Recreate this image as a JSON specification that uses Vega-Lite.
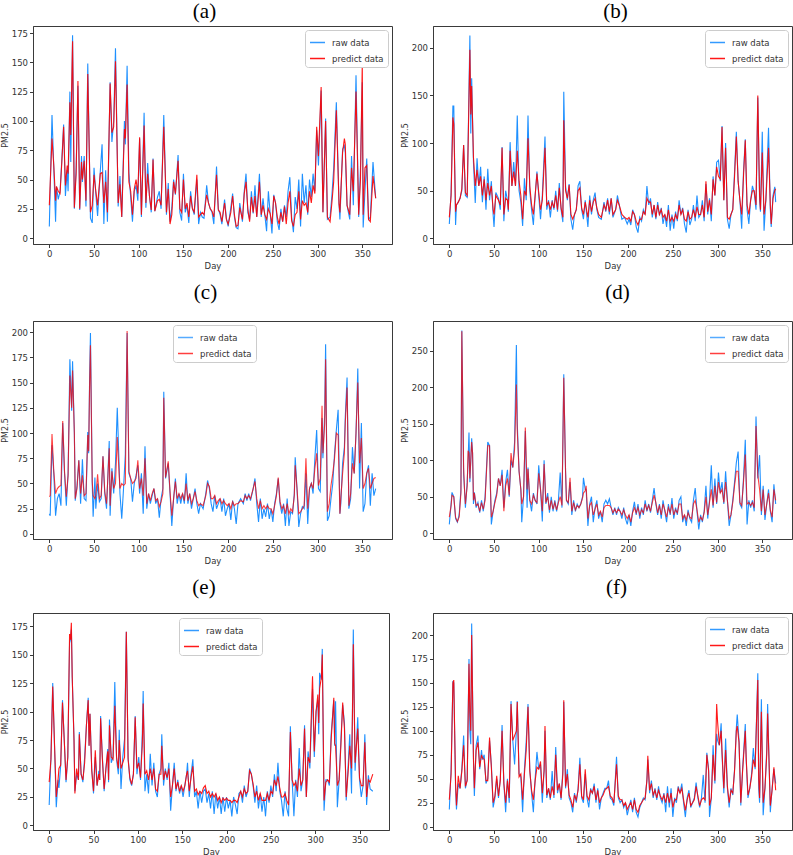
{
"$schema":"https://vega.github.io/schema/vega-lite/v6.json",
"padding":{"left":0,"top":0,"right":0,"bottom":0},
"config":{
 "font":"DejaVu Sans",
 "view":{"stroke":"#3a3a3a","strokeWidth":1},
 "axis":{"grid":false,"domainColor":"#3a3a3a","tickColor":"#3a3a3a","tickSize":3.5,"labelFontSize":8.5,"labelColor":"#333","labelPadding":2,"titleFontSize":8.5,"titleFontWeight":"normal","titleColor":"#333","titlePadding":3,"labelFlush":false,"labelOverlap":false},
 "axisY":{"minExtent":0,"titlePadding":2,"titleFontSize":8},
 "legend":{"labelFontSize":8.5,"labelColor":"#333","symbolType":"stroke","symbolSize":225,"symbolStrokeWidth":1.5,"strokeColor":"#cccccc","fillColor":"#ffffff","padding":4,"cornerRadius":3,"rowPadding":3,"labelOffset":6,"offset":4},
 "title":{"font":"Liberation Serif","fontSize":21,"fontWeight":"normal","color":"#000","anchor":"middle","frame":"group"}
},
"datasets":{
"a":[{"d":0,"r":10,"p":28},{"d":3,"r":105,"p":85},{"d":5,"r":60,"p":62},{"d":7,"r":14,"p":32},{"d":8,"r":44,"p":44},{"d":10,"r":33,"p":40},{"d":12,"r":40,"p":38},{"d":14,"r":67,"p":65},{"d":16,"r":97,"p":95},{"d":18,"r":36,"p":45},{"d":20,"r":58,"p":62},{"d":21,"r":40,"p":55},{"d":23,"r":125,"p":116},{"d":24,"r":65,"p":88},{"d":26,"r":173,"p":168},{"d":28,"r":25,"p":26},{"d":30,"r":60,"p":55},{"d":32,"r":130,"p":134},{"d":34,"r":24,"p":25},{"d":36,"r":70,"p":65},{"d":37,"r":48,"p":50},{"d":39,"r":70,"p":66},{"d":41,"r":27,"p":32},{"d":43,"r":149,"p":140},{"d":46,"r":17,"p":22},{"d":48,"r":13,"p":28},{"d":50,"r":60,"p":54},{"d":52,"r":38,"p":40},{"d":54,"r":19,"p":28},{"d":57,"r":57,"p":55},{"d":59,"r":80,"p":56},{"d":61,"r":12,"p":30},{"d":63,"r":58,"p":48},{"d":65,"r":14,"p":22},{"d":68,"r":133,"p":132},{"d":70,"r":82,"p":90},{"d":72,"r":100,"p":95},{"d":74,"r":162,"p":151},{"d":77,"r":27,"p":30},{"d":79,"r":53,"p":46},{"d":81,"r":18,"p":18},{"d":84,"r":100,"p":93},{"d":85,"r":80,"p":85},{"d":87,"r":147,"p":131},{"d":89,"r":56,"p":48},{"d":91,"r":35,"p":40},{"d":93,"r":14,"p":20},{"d":95,"r":40,"p":42},{"d":97,"r":45,"p":50},{"d":99,"r":32,"p":38},{"d":101,"r":85,"p":86},{"d":103,"r":18,"p":20},{"d":106,"r":107,"p":96},{"d":108,"r":26,"p":30},{"d":110,"r":64,"p":55},{"d":112,"r":36,"p":36},{"d":114,"r":22,"p":24},{"d":116,"r":68,"p":67},{"d":118,"r":23,"p":23},{"d":121,"r":35,"p":32},{"d":123,"r":40,"p":33},{"d":125,"r":25,"p":28},{"d":128,"r":105,"p":95},{"d":131,"r":20,"p":22},{"d":133,"r":47,"p":42},{"d":135,"r":14,"p":12},{"d":137,"r":26,"p":20},{"d":139,"r":50,"p":48},{"d":141,"r":37,"p":38},{"d":144,"r":71,"p":66},{"d":146,"r":22,"p":25},{"d":148,"r":15,"p":22},{"d":150,"r":55,"p":50},{"d":152,"r":22,"p":25},{"d":154,"r":28,"p":30},{"d":156,"r":13,"p":18},{"d":158,"r":40,"p":36},{"d":160,"r":26,"p":25},{"d":162,"r":20,"p":22},{"d":165,"r":50,"p":54},{"d":167,"r":12,"p":18},{"d":169,"r":22,"p":20},{"d":171,"r":18,"p":22},{"d":173,"r":17,"p":20},{"d":176,"r":45,"p":37},{"d":178,"r":30,"p":30},{"d":180,"r":25,"p":25},{"d":182,"r":22,"p":23},{"d":184,"r":12,"p":18},{"d":187,"r":61,"p":54},{"d":189,"r":25,"p":24},{"d":191,"r":20,"p":22},{"d":193,"r":12,"p":14},{"d":196,"r":33,"p":30},{"d":198,"r":17,"p":16},{"d":200,"r":10,"p":12},{"d":203,"r":26,"p":22},{"d":205,"r":38,"p":36},{"d":207,"r":18,"p":20},{"d":209,"r":9,"p":10},{"d":211,"r":8,"p":11},{"d":213,"r":30,"p":26},{"d":216,"r":14,"p":16},{"d":218,"r":40,"p":38},{"d":220,"r":55,"p":48},{"d":222,"r":22,"p":25},{"d":224,"r":16,"p":14},{"d":226,"r":40,"p":35},{"d":228,"r":21,"p":22},{"d":230,"r":45,"p":36},{"d":232,"r":18,"p":18},{"d":235,"r":55,"p":48},{"d":237,"r":18,"p":20},{"d":239,"r":34,"p":28},{"d":241,"r":20,"p":20},{"d":243,"r":6,"p":16},{"d":245,"r":40,"p":25},{"d":247,"r":21,"p":21},{"d":249,"r":4,"p":12},{"d":251,"r":37,"p":36},{"d":253,"r":30,"p":30},{"d":255,"r":14,"p":18},{"d":257,"r":7,"p":12},{"d":259,"r":25,"p":22},{"d":261,"r":14,"p":14},{"d":263,"r":28,"p":27},{"d":265,"r":18,"p":12},{"d":267,"r":40,"p":30},{"d":269,"r":52,"p":40},{"d":271,"r":18,"p":15},{"d":273,"r":5,"p":10},{"d":275,"r":35,"p":20},{"d":277,"r":25,"p":22},{"d":279,"r":50,"p":40},{"d":281,"r":10,"p":16},{"d":283,"r":55,"p":32},{"d":285,"r":30,"p":28},{"d":287,"r":45,"p":30},{"d":289,"r":20,"p":22},{"d":291,"r":50,"p":40},{"d":293,"r":35,"p":30},{"d":295,"r":55,"p":45},{"d":297,"r":40,"p":38},{"d":299,"r":92,"p":95},{"d":301,"r":62,"p":70},{"d":304,"r":126,"p":129},{"d":306,"r":22,"p":22},{"d":309,"r":102,"p":100},{"d":311,"r":16,"p":18},{"d":314,"r":18,"p":14},{"d":316,"r":36,"p":30},{"d":318,"r":59,"p":48},{"d":321,"r":116,"p":109},{"d":324,"r":29,"p":29},{"d":325,"r":16,"p":22},{"d":328,"r":76,"p":73},{"d":330,"r":79,"p":85},{"d":331,"r":73,"p":80},{"d":333,"r":28,"p":28},{"d":336,"r":16,"p":20},{"d":338,"r":70,"p":60},{"d":340,"r":28,"p":40},{"d":343,"r":139,"p":125},{"d":346,"r":18,"p":20},{"d":348,"r":60,"p":50},{"d":350,"r":133,"p":149},{"d":351,"r":9,"p":20},{"d":353,"r":40,"p":60},{"d":355,"r":68,"p":62},{"d":357,"r":16,"p":16},{"d":359,"r":18,"p":14},{"d":362,"r":65,"p":53},{"d":365,"r":34,"p":34}],
"b":[{"d":0,"r":15,"p":22},{"d":2,"r":48,"p":45},{"d":4,"r":139,"p":127},{"d":5,"r":139,"p":120},{"d":7,"r":14,"p":28},{"d":8,"r":35,"p":35},{"d":10,"r":38,"p":38},{"d":12,"r":42,"p":42},{"d":14,"r":50,"p":52},{"d":16,"r":98,"p":98},{"d":18,"r":45,"p":48},{"d":20,"r":43,"p":45},{"d":23,"r":213,"p":198},{"d":24,"r":110,"p":130},{"d":25,"r":168,"p":160},{"d":27,"r":80,"p":85},{"d":29,"r":37,"p":55},{"d":31,"r":84,"p":72},{"d":33,"r":55,"p":55},{"d":35,"r":75,"p":65},{"d":37,"r":38,"p":45},{"d":39,"r":65,"p":62},{"d":41,"r":30,"p":40},{"d":43,"r":73,"p":58},{"d":45,"r":40,"p":45},{"d":47,"r":60,"p":55},{"d":49,"r":25,"p":30},{"d":50,"r":12,"p":25},{"d":52,"r":48,"p":45},{"d":55,"r":42,"p":40},{"d":57,"r":30,"p":35},{"d":59,"r":96,"p":95},{"d":61,"r":18,"p":25},{"d":63,"r":50,"p":42},{"d":65,"r":40,"p":40},{"d":66,"r":28,"p":30},{"d":68,"r":101,"p":92},{"d":70,"r":55,"p":55},{"d":72,"r":80,"p":70},{"d":74,"r":55,"p":55},{"d":76,"r":129,"p":92},{"d":78,"r":50,"p":60},{"d":80,"r":38,"p":45},{"d":82,"r":13,"p":20},{"d":84,"r":63,"p":50},{"d":86,"r":40,"p":45},{"d":88,"r":129,"p":105},{"d":90,"r":50,"p":55},{"d":92,"r":30,"p":35},{"d":94,"r":14,"p":25},{"d":96,"r":45,"p":45},{"d":98,"r":70,"p":68},{"d":100,"r":45,"p":48},{"d":102,"r":20,"p":30},{"d":104,"r":45,"p":40},{"d":107,"r":107,"p":95},{"d":109,"r":30,"p":35},{"d":111,"r":40,"p":38},{"d":113,"r":22,"p":30},{"d":115,"r":40,"p":38},{"d":117,"r":30,"p":32},{"d":119,"r":50,"p":45},{"d":121,"r":28,"p":30},{"d":123,"r":58,"p":53},{"d":125,"r":30,"p":32},{"d":127,"r":17,"p":22},{"d":128,"r":154,"p":124},{"d":130,"r":55,"p":50},{"d":132,"r":40,"p":42},{"d":134,"r":57,"p":56},{"d":136,"r":20,"p":25},{"d":138,"r":9,"p":20},{"d":140,"r":25,"p":25},{"d":142,"r":30,"p":30},{"d":144,"r":55,"p":50},{"d":146,"r":60,"p":53},{"d":148,"r":30,"p":32},{"d":150,"r":20,"p":25},{"d":152,"r":40,"p":38},{"d":155,"r":12,"p":22},{"d":157,"r":45,"p":40},{"d":159,"r":25,"p":28},{"d":161,"r":40,"p":38},{"d":163,"r":48,"p":42},{"d":165,"r":30,"p":32},{"d":167,"r":22,"p":25},{"d":170,"r":20,"p":22},{"d":173,"r":38,"p":35},{"d":175,"r":28,"p":30},{"d":177,"r":42,"p":40},{"d":179,"r":25,"p":28},{"d":181,"r":42,"p":42},{"d":183,"r":22,"p":25},{"d":186,"r":30,"p":30},{"d":188,"r":45,"p":40},{"d":190,"r":35,"p":35},{"d":193,"r":20,"p":25},{"d":196,"r":22,"p":22},{"d":199,"r":15,"p":20},{"d":201,"r":20,"p":22},{"d":203,"r":14,"p":18},{"d":205,"r":30,"p":28},{"d":207,"r":25,"p":25},{"d":209,"r":12,"p":18},{"d":211,"r":6,"p":14},{"d":213,"r":22,"p":20},{"d":215,"r":18,"p":20},{"d":217,"r":30,"p":28},{"d":219,"r":25,"p":25},{"d":221,"r":55,"p":42},{"d":223,"r":35,"p":38},{"d":225,"r":42,"p":38},{"d":227,"r":22,"p":25},{"d":229,"r":35,"p":35},{"d":231,"r":20,"p":22},{"d":233,"r":38,"p":35},{"d":235,"r":24,"p":25},{"d":237,"r":32,"p":30},{"d":239,"r":15,"p":22},{"d":241,"r":25,"p":25},{"d":243,"r":12,"p":18},{"d":245,"r":35,"p":30},{"d":247,"r":8,"p":18},{"d":249,"r":25,"p":22},{"d":251,"r":10,"p":18},{"d":253,"r":28,"p":25},{"d":255,"r":18,"p":20},{"d":257,"r":40,"p":35},{"d":259,"r":25,"p":25},{"d":261,"r":32,"p":30},{"d":263,"r":15,"p":20},{"d":265,"r":6,"p":18},{"d":267,"r":30,"p":28},{"d":269,"r":14,"p":20},{"d":271,"r":20,"p":22},{"d":273,"r":35,"p":30},{"d":275,"r":18,"p":22},{"d":277,"r":45,"p":33},{"d":279,"r":22,"p":25},{"d":281,"r":25,"p":25},{"d":283,"r":40,"p":35},{"d":285,"r":18,"p":22},{"d":287,"r":57,"p":60},{"d":289,"r":25,"p":28},{"d":291,"r":42,"p":40},{"d":293,"r":18,"p":25},{"d":295,"r":65,"p":62},{"d":297,"r":45,"p":45},{"d":299,"r":80,"p":75},{"d":301,"r":82,"p":65},{"d":303,"r":60,"p":62},{"d":305,"r":118,"p":117},{"d":307,"r":40,"p":40},{"d":309,"r":100,"p":95},{"d":311,"r":20,"p":22},{"d":313,"r":10,"p":20},{"d":315,"r":25,"p":25},{"d":317,"r":30,"p":30},{"d":319,"r":70,"p":65},{"d":321,"r":112,"p":107},{"d":323,"r":60,"p":60},{"d":325,"r":40,"p":40},{"d":327,"r":10,"p":25},{"d":329,"r":70,"p":65},{"d":331,"r":104,"p":103},{"d":333,"r":30,"p":35},{"d":335,"r":15,"p":25},{"d":337,"r":40,"p":40},{"d":339,"r":55,"p":50},{"d":341,"r":48,"p":50},{"d":343,"r":30,"p":35},{"d":345,"r":148,"p":150},{"d":347,"r":40,"p":45},{"d":348,"r":28,"p":30},{"d":350,"r":112,"p":90},{"d":352,"r":8,"p":25},{"d":354,"r":40,"p":40},{"d":357,"r":116,"p":95},{"d":359,"r":30,"p":35},{"d":360,"r":12,"p":15},{"d":362,"r":45,"p":42},{"d":364,"r":54,"p":50},{"d":365,"r":38,"p":52}],
"c":[{"d":0,"r":20,"p":37},{"d":1,"r":18,"p":38},{"d":3,"r":88,"p":99},{"d":5,"r":60,"p":62},{"d":7,"r":18,"p":40},{"d":9,"r":35,"p":45},{"d":11,"r":40,"p":47},{"d":13,"r":28,"p":48},{"d":15,"r":110,"p":112},{"d":17,"r":60,"p":62},{"d":19,"r":28,"p":37},{"d":21,"r":60,"p":58},{"d":23,"r":173,"p":157},{"d":25,"r":122,"p":125},{"d":26,"r":171,"p":162},{"d":28,"r":100,"p":100},{"d":29,"r":33,"p":35},{"d":31,"r":48,"p":45},{"d":33,"r":73,"p":73},{"d":35,"r":30,"p":40},{"d":37,"r":74,"p":58},{"d":39,"r":35,"p":38},{"d":41,"r":33,"p":40},{"d":43,"r":101,"p":98},{"d":44,"r":80,"p":82},{"d":45,"r":150,"p":145},{"d":46,"r":199,"p":187},{"d":48,"r":50,"p":52},{"d":49,"r":17,"p":38},{"d":51,"r":56,"p":35},{"d":52,"r":25,"p":38},{"d":54,"r":50,"p":59},{"d":56,"r":32,"p":35},{"d":58,"r":35,"p":38},{"d":60,"r":77,"p":77},{"d":62,"r":40,"p":42},{"d":64,"r":25,"p":30},{"d":65,"r":47,"p":47},{"d":67,"r":92,"p":85},{"d":68,"r":18,"p":28},{"d":70,"r":65,"p":62},{"d":72,"r":40,"p":45},{"d":74,"r":70,"p":50},{"d":76,"r":125,"p":96},{"d":78,"r":70,"p":60},{"d":79,"r":40,"p":45},{"d":81,"r":15,"p":50},{"d":83,"r":45,"p":48},{"d":85,"r":79,"p":50},{"d":87,"r":199,"p":201},{"d":89,"r":60,"p":62},{"d":91,"r":55,"p":55},{"d":93,"r":32,"p":50},{"d":95,"r":50,"p":52},{"d":97,"r":58,"p":55},{"d":99,"r":68,"p":73},{"d":101,"r":40,"p":45},{"d":103,"r":60,"p":55},{"d":105,"r":20,"p":38},{"d":107,"r":87,"p":75},{"d":109,"r":25,"p":30},{"d":111,"r":40,"p":40},{"d":113,"r":30,"p":33},{"d":115,"r":38,"p":40},{"d":117,"r":45,"p":45},{"d":119,"r":30,"p":33},{"d":121,"r":35,"p":35},{"d":123,"r":16,"p":27},{"d":125,"r":35,"p":32},{"d":127,"r":45,"p":40},{"d":128,"r":141,"p":135},{"d":130,"r":55,"p":56},{"d":133,"r":70,"p":72},{"d":135,"r":40,"p":42},{"d":137,"r":8,"p":18},{"d":139,"r":35,"p":35},{"d":141,"r":55,"p":52},{"d":143,"r":30,"p":35},{"d":145,"r":40,"p":40},{"d":147,"r":30,"p":35},{"d":149,"r":40,"p":40},{"d":151,"r":30,"p":33},{"d":153,"r":60,"p":50},{"d":155,"r":30,"p":33},{"d":157,"r":40,"p":40},{"d":159,"r":25,"p":30},{"d":161,"r":35,"p":35},{"d":163,"r":45,"p":42},{"d":165,"r":30,"p":33},{"d":167,"r":20,"p":28},{"d":169,"r":30,"p":30},{"d":172,"r":25,"p":28},{"d":175,"r":40,"p":38},{"d":177,"r":53,"p":50},{"d":179,"r":45,"p":47},{"d":181,"r":30,"p":35},{"d":183,"r":22,"p":35},{"d":185,"r":38,"p":38},{"d":187,"r":25,"p":30},{"d":189,"r":30,"p":33},{"d":191,"r":35,"p":35},{"d":193,"r":22,"p":30},{"d":195,"r":35,"p":33},{"d":197,"r":18,"p":30},{"d":199,"r":25,"p":28},{"d":201,"r":30,"p":30},{"d":203,"r":14,"p":25},{"d":205,"r":33,"p":32},{"d":207,"r":25,"p":28},{"d":209,"r":10,"p":30},{"d":211,"r":30,"p":30},{"d":214,"r":35,"p":33},{"d":217,"r":30,"p":32},{"d":219,"r":40,"p":38},{"d":221,"r":33,"p":35},{"d":223,"r":40,"p":38},{"d":225,"r":33,"p":35},{"d":228,"r":45,"p":45},{"d":230,"r":55,"p":52},{"d":232,"r":30,"p":35},{"d":234,"r":12,"p":25},{"d":236,"r":35,"p":33},{"d":238,"r":15,"p":25},{"d":240,"r":25,"p":28},{"d":242,"r":17,"p":25},{"d":244,"r":30,"p":28},{"d":246,"r":15,"p":25},{"d":248,"r":25,"p":25},{"d":250,"r":12,"p":20},{"d":252,"r":30,"p":28},{"d":254,"r":40,"p":38},{"d":256,"r":55,"p":56},{"d":258,"r":30,"p":32},{"d":260,"r":20,"p":25},{"d":262,"r":30,"p":28},{"d":264,"r":8,"p":20},{"d":266,"r":35,"p":30},{"d":268,"r":8,"p":20},{"d":270,"r":22,"p":25},{"d":272,"r":20,"p":22},{"d":274,"r":40,"p":38},{"d":275,"r":76,"p":68},{"d":277,"r":45,"p":45},{"d":279,"r":7,"p":20},{"d":281,"r":20,"p":22},{"d":283,"r":27,"p":25},{"d":285,"r":25,"p":28},{"d":287,"r":60,"p":75},{"d":289,"r":10,"p":25},{"d":291,"r":45,"p":45},{"d":293,"r":50,"p":50},{"d":295,"r":40,"p":45},{"d":297,"r":75,"p":65},{"d":299,"r":103,"p":80},{"d":301,"r":45,"p":48},{"d":303,"r":42,"p":55},{"d":305,"r":115,"p":127},{"d":306,"r":75,"p":80},{"d":308,"r":120,"p":110},{"d":309,"r":188,"p":173},{"d":311,"r":13,"p":22},{"d":313,"r":18,"p":30},{"d":315,"r":35,"p":48},{"d":317,"r":50,"p":60},{"d":319,"r":80,"p":75},{"d":321,"r":103,"p":100},{"d":323,"r":123,"p":98},{"d":325,"r":20,"p":20},{"d":326,"r":30,"p":35},{"d":328,"r":70,"p":60},{"d":330,"r":86,"p":80},{"d":331,"r":116,"p":110},{"d":333,"r":155,"p":145},{"d":335,"r":25,"p":28},{"d":337,"r":35,"p":40},{"d":339,"r":86,"p":70},{"d":341,"r":60,"p":60},{"d":343,"r":100,"p":100},{"d":345,"r":164,"p":150},{"d":347,"r":45,"p":70},{"d":349,"r":110,"p":95},{"d":351,"r":22,"p":45},{"d":353,"r":30,"p":50},{"d":355,"r":60,"p":60},{"d":357,"r":68,"p":65},{"d":359,"r":28,"p":45},{"d":361,"r":60,"p":50},{"d":363,"r":38,"p":55},{"d":365,"r":45,"p":56}],
"d":[{"d":0,"r":12,"p":22},{"d":2,"r":40,"p":38},{"d":3,"r":56,"p":52},{"d":5,"r":50,"p":50},{"d":7,"r":20,"p":22},{"d":9,"r":15,"p":16},{"d":11,"r":25,"p":22},{"d":13,"r":60,"p":55},{"d":14,"r":278,"p":277},{"d":16,"r":80,"p":90},{"d":17,"r":60,"p":60},{"d":18,"r":35,"p":40},{"d":20,"r":70,"p":65},{"d":21,"r":100,"p":113},{"d":22,"r":138,"p":110},{"d":23,"r":70,"p":75},{"d":25,"r":130,"p":125},{"d":26,"r":110,"p":110},{"d":27,"r":40,"p":45},{"d":28,"r":56,"p":55},{"d":30,"r":35,"p":38},{"d":32,"r":42,"p":40},{"d":34,"r":28,"p":30},{"d":36,"r":45,"p":42},{"d":38,"r":30,"p":33},{"d":40,"r":50,"p":45},{"d":42,"r":100,"p":95},{"d":43,"r":125,"p":120},{"d":45,"r":120,"p":120},{"d":46,"r":60,"p":62},{"d":47,"r":12,"p":22},{"d":49,"r":30,"p":30},{"d":51,"r":45,"p":42},{"d":53,"r":55,"p":52},{"d":55,"r":75,"p":75},{"d":57,"r":65,"p":65},{"d":59,"r":87,"p":80},{"d":61,"r":35,"p":30},{"d":63,"r":70,"p":65},{"d":65,"r":87,"p":75},{"d":67,"r":50,"p":52},{"d":69,"r":100,"p":110},{"d":71,"r":90,"p":90},{"d":73,"r":125,"p":115},{"d":75,"r":258,"p":204},{"d":76,"r":150,"p":140},{"d":78,"r":85,"p":85},{"d":80,"r":60,"p":60},{"d":81,"r":15,"p":40},{"d":83,"r":50,"p":50},{"d":85,"r":140,"p":145},{"d":87,"r":35,"p":60},{"d":88,"r":90,"p":88},{"d":90,"r":45,"p":45},{"d":92,"r":30,"p":40},{"d":94,"r":55,"p":52},{"d":96,"r":45,"p":45},{"d":98,"r":40,"p":42},{"d":100,"r":93,"p":82},{"d":102,"r":60,"p":60},{"d":104,"r":16,"p":30},{"d":106,"r":100,"p":95},{"d":108,"r":40,"p":42},{"d":110,"r":55,"p":50},{"d":112,"r":28,"p":32},{"d":114,"r":50,"p":45},{"d":116,"r":30,"p":33},{"d":118,"r":45,"p":42},{"d":120,"r":30,"p":32},{"d":122,"r":45,"p":42},{"d":124,"r":83,"p":50},{"d":126,"r":35,"p":38},{"d":128,"r":218,"p":213},{"d":130,"r":85,"p":85},{"d":131,"r":45,"p":45},{"d":133,"r":40,"p":42},{"d":135,"r":70,"p":76},{"d":137,"r":25,"p":30},{"d":139,"r":45,"p":42},{"d":141,"r":30,"p":32},{"d":143,"r":40,"p":38},{"d":145,"r":35,"p":35},{"d":147,"r":40,"p":40},{"d":149,"r":50,"p":48},{"d":150,"r":76,"p":55},{"d":152,"r":60,"p":58},{"d":153,"r":60,"p":65},{"d":155,"r":10,"p":20},{"d":157,"r":40,"p":38},{"d":159,"r":50,"p":42},{"d":161,"r":15,"p":25},{"d":163,"r":35,"p":33},{"d":165,"r":45,"p":40},{"d":167,"r":20,"p":25},{"d":169,"r":30,"p":30},{"d":171,"r":15,"p":22},{"d":173,"r":40,"p":35},{"d":175,"r":45,"p":38},{"d":177,"r":40,"p":38},{"d":179,"r":47,"p":38},{"d":181,"r":35,"p":35},{"d":183,"r":25,"p":28},{"d":185,"r":35,"p":33},{"d":187,"r":25,"p":28},{"d":189,"r":35,"p":33},{"d":191,"r":30,"p":30},{"d":193,"r":20,"p":25},{"d":195,"r":35,"p":32},{"d":197,"r":20,"p":25},{"d":199,"r":12,"p":20},{"d":201,"r":25,"p":25},{"d":203,"r":10,"p":15},{"d":205,"r":30,"p":28},{"d":207,"r":43,"p":35},{"d":209,"r":25,"p":28},{"d":211,"r":40,"p":35},{"d":213,"r":20,"p":25},{"d":215,"r":35,"p":32},{"d":217,"r":25,"p":28},{"d":219,"r":45,"p":40},{"d":221,"r":30,"p":32},{"d":223,"r":40,"p":38},{"d":225,"r":28,"p":30},{"d":227,"r":45,"p":42},{"d":229,"r":62,"p":52},{"d":231,"r":40,"p":42},{"d":233,"r":25,"p":28},{"d":235,"r":40,"p":38},{"d":237,"r":20,"p":25},{"d":239,"r":45,"p":40},{"d":241,"r":30,"p":32},{"d":243,"r":15,"p":22},{"d":245,"r":40,"p":35},{"d":247,"r":25,"p":28},{"d":249,"r":48,"p":40},{"d":251,"r":20,"p":25},{"d":253,"r":35,"p":32},{"d":255,"r":25,"p":28},{"d":257,"r":45,"p":40},{"d":259,"r":50,"p":40},{"d":261,"r":15,"p":20},{"d":263,"r":25,"p":25},{"d":265,"r":10,"p":18},{"d":267,"r":32,"p":28},{"d":269,"r":20,"p":22},{"d":271,"r":15,"p":20},{"d":273,"r":45,"p":40},{"d":275,"r":62,"p":45},{"d":277,"r":30,"p":32},{"d":279,"r":5,"p":15},{"d":281,"r":25,"p":22},{"d":283,"r":15,"p":18},{"d":285,"r":30,"p":28},{"d":287,"r":65,"p":50},{"d":289,"r":20,"p":25},{"d":291,"r":45,"p":42},{"d":293,"r":93,"p":60},{"d":295,"r":35,"p":38},{"d":297,"r":75,"p":65},{"d":299,"r":40,"p":42},{"d":301,"r":83,"p":70},{"d":303,"r":55,"p":55},{"d":305,"r":70,"p":60},{"d":307,"r":40,"p":42},{"d":309,"r":85,"p":70},{"d":311,"r":45,"p":45},{"d":313,"r":10,"p":20},{"d":315,"r":25,"p":25},{"d":317,"r":45,"p":42},{"d":319,"r":70,"p":65},{"d":321,"r":97,"p":85},{"d":323,"r":112,"p":85},{"d":325,"r":40,"p":42},{"d":327,"r":35,"p":38},{"d":329,"r":75,"p":70},{"d":331,"r":128,"p":108},{"d":333,"r":12,"p":40},{"d":335,"r":45,"p":42},{"d":337,"r":35,"p":38},{"d":339,"r":45,"p":42},{"d":341,"r":30,"p":35},{"d":343,"r":160,"p":147},{"d":345,"r":75,"p":80},{"d":347,"r":107,"p":60},{"d":349,"r":25,"p":30},{"d":351,"r":65,"p":60},{"d":353,"r":18,"p":25},{"d":355,"r":40,"p":40},{"d":357,"r":60,"p":55},{"d":359,"r":30,"p":32},{"d":361,"r":15,"p":22},{"d":363,"r":67,"p":60},{"d":365,"r":40,"p":45}],
"e":[{"d":0,"r":18,"p":38},{"d":2,"r":60,"p":58},{"d":4,"r":125,"p":122},{"d":6,"r":70,"p":72},{"d":8,"r":16,"p":25},{"d":10,"r":40,"p":40},{"d":11,"r":33,"p":50},{"d":13,"r":53,"p":53},{"d":15,"r":110,"p":108},{"d":17,"r":75,"p":75},{"d":19,"r":38,"p":40},{"d":21,"r":60,"p":60},{"d":23,"r":160,"p":168},{"d":24,"r":163,"p":163},{"d":25,"r":172,"p":178},{"d":26,"r":130,"p":130},{"d":28,"r":75,"p":75},{"d":29,"r":30,"p":28},{"d":31,"r":45,"p":50},{"d":33,"r":40,"p":40},{"d":34,"r":82,"p":80},{"d":36,"r":45,"p":45},{"d":38,"r":38,"p":40},{"d":40,"r":60,"p":55},{"d":42,"r":88,"p":88},{"d":44,"r":112,"p":110},{"d":45,"r":70,"p":70},{"d":46,"r":98,"p":98},{"d":48,"r":50,"p":48},{"d":50,"r":28,"p":30},{"d":52,"r":60,"p":66},{"d":54,"r":35,"p":35},{"d":56,"r":48,"p":45},{"d":57,"r":40,"p":40},{"d":58,"r":96,"p":94},{"d":60,"r":60,"p":58},{"d":62,"r":30,"p":32},{"d":64,"r":50,"p":50},{"d":66,"r":67,"p":65},{"d":67,"r":38,"p":40},{"d":68,"r":93,"p":88},{"d":70,"r":55,"p":60},{"d":72,"r":60,"p":58},{"d":74,"r":126,"p":105},{"d":76,"r":58,"p":60},{"d":78,"r":45,"p":50},{"d":79,"r":84,"p":75},{"d":81,"r":32,"p":50},{"d":83,"r":60,"p":55},{"d":85,"r":76,"p":60},{"d":87,"r":170,"p":170},{"d":89,"r":60,"p":58},{"d":91,"r":40,"p":42},{"d":93,"r":35,"p":36},{"d":95,"r":45,"p":45},{"d":97,"r":96,"p":95},{"d":99,"r":45,"p":50},{"d":101,"r":60,"p":55},{"d":103,"r":40,"p":42},{"d":105,"r":80,"p":70},{"d":106,"r":118,"p":107},{"d":108,"r":30,"p":45},{"d":110,"r":45,"p":48},{"d":112,"r":28,"p":40},{"d":114,"r":63,"p":50},{"d":116,"r":35,"p":40},{"d":118,"r":55,"p":50},{"d":120,"r":30,"p":32},{"d":122,"r":25,"p":30},{"d":124,"r":45,"p":45},{"d":126,"r":50,"p":45},{"d":127,"r":80,"p":70},{"d":129,"r":35,"p":40},{"d":131,"r":50,"p":48},{"d":133,"r":40,"p":42},{"d":135,"r":55,"p":50},{"d":137,"r":13,"p":25},{"d":139,"r":35,"p":35},{"d":141,"r":55,"p":50},{"d":143,"r":30,"p":32},{"d":145,"r":40,"p":38},{"d":147,"r":28,"p":30},{"d":149,"r":35,"p":35},{"d":151,"r":25,"p":30},{"d":153,"r":35,"p":35},{"d":155,"r":45,"p":45},{"d":156,"r":55,"p":48},{"d":158,"r":25,"p":30},{"d":160,"r":45,"p":42},{"d":162,"r":58,"p":52},{"d":164,"r":25,"p":30},{"d":166,"r":30,"p":32},{"d":168,"r":15,"p":27},{"d":170,"r":30,"p":30},{"d":172,"r":20,"p":28},{"d":174,"r":30,"p":33},{"d":176,"r":32,"p":35},{"d":178,"r":20,"p":28},{"d":180,"r":28,"p":30},{"d":182,"r":15,"p":25},{"d":184,"r":30,"p":28},{"d":186,"r":10,"p":25},{"d":188,"r":28,"p":28},{"d":190,"r":15,"p":22},{"d":192,"r":25,"p":25},{"d":194,"r":10,"p":20},{"d":196,"r":25,"p":24},{"d":198,"r":12,"p":22},{"d":200,"r":25,"p":24},{"d":202,"r":15,"p":22},{"d":204,"r":22,"p":22},{"d":206,"r":8,"p":20},{"d":208,"r":25,"p":22},{"d":210,"r":18,"p":22},{"d":212,"r":10,"p":20},{"d":214,"r":28,"p":25},{"d":216,"r":30,"p":30},{"d":218,"r":20,"p":25},{"d":220,"r":35,"p":32},{"d":222,"r":25,"p":28},{"d":224,"r":30,"p":30},{"d":226,"r":50,"p":48},{"d":228,"r":45,"p":45},{"d":230,"r":35,"p":36},{"d":232,"r":20,"p":25},{"d":234,"r":35,"p":30},{"d":236,"r":15,"p":22},{"d":238,"r":28,"p":28},{"d":240,"r":12,"p":22},{"d":242,"r":25,"p":22},{"d":244,"r":8,"p":22},{"d":246,"r":30,"p":28},{"d":248,"r":20,"p":22},{"d":250,"r":35,"p":30},{"d":252,"r":25,"p":28},{"d":254,"r":45,"p":40},{"d":256,"r":30,"p":35},{"d":258,"r":55,"p":43},{"d":260,"r":30,"p":33},{"d":262,"r":22,"p":25},{"d":264,"r":8,"p":25},{"d":266,"r":30,"p":28},{"d":268,"r":15,"p":22},{"d":270,"r":8,"p":18},{"d":272,"r":87,"p":82},{"d":274,"r":40,"p":40},{"d":276,"r":8,"p":35},{"d":278,"r":40,"p":38},{"d":280,"r":25,"p":30},{"d":282,"r":68,"p":50},{"d":284,"r":30,"p":35},{"d":286,"r":40,"p":40},{"d":288,"r":88,"p":85},{"d":290,"r":25,"p":25},{"d":292,"r":65,"p":60},{"d":294,"r":50,"p":55},{"d":297,"r":120,"p":131},{"d":299,"r":60,"p":65},{"d":301,"r":100,"p":100},{"d":303,"r":110,"p":115},{"d":304,"r":80,"p":90},{"d":305,"r":134,"p":120},{"d":307,"r":128,"p":130},{"d":308,"r":155,"p":150},{"d":310,"r":13,"p":22},{"d":312,"r":40,"p":38},{"d":314,"r":40,"p":40},{"d":316,"r":35,"p":38},{"d":318,"r":80,"p":75},{"d":321,"r":110,"p":112},{"d":322,"r":70,"p":72},{"d":323,"r":109,"p":70},{"d":325,"r":16,"p":35},{"d":327,"r":40,"p":40},{"d":329,"r":75,"p":70},{"d":331,"r":106,"p":108},{"d":333,"r":90,"p":85},{"d":335,"r":22,"p":25},{"d":337,"r":50,"p":45},{"d":339,"r":80,"p":70},{"d":341,"r":28,"p":50},{"d":342,"r":100,"p":95},{"d":343,"r":172,"p":159},{"d":345,"r":48,"p":55},{"d":348,"r":95,"p":85},{"d":350,"r":40,"p":42},{"d":352,"r":25,"p":35},{"d":354,"r":35,"p":35},{"d":356,"r":80,"p":73},{"d":358,"r":18,"p":25},{"d":360,"r":44,"p":40},{"d":362,"r":32,"p":38},{"d":365,"r":30,"p":45}],
"f":[{"d":0,"r":18,"p":28},{"d":2,"r":60,"p":55},{"d":4,"r":152,"p":150},{"d":5,"r":150,"p":153},{"d":7,"r":40,"p":45},{"d":8,"r":18,"p":22},{"d":10,"r":45,"p":53},{"d":12,"r":40,"p":40},{"d":14,"r":60,"p":58},{"d":16,"r":95,"p":85},{"d":18,"r":40,"p":42},{"d":20,"r":50,"p":48},{"d":22,"r":175,"p":170},{"d":23,"r":100,"p":120},{"d":24,"r":86,"p":100},{"d":25,"r":212,"p":200},{"d":27,"r":70,"p":72},{"d":28,"r":32,"p":40},{"d":30,"r":85,"p":80},{"d":32,"r":95,"p":88},{"d":34,"r":60,"p":62},{"d":36,"r":80,"p":75},{"d":37,"r":70,"p":72},{"d":39,"r":75,"p":70},{"d":41,"r":45,"p":48},{"d":43,"r":50,"p":48},{"d":45,"r":90,"p":93},{"d":47,"r":65,"p":62},{"d":49,"r":20,"p":25},{"d":51,"r":30,"p":32},{"d":53,"r":50,"p":53},{"d":55,"r":30,"p":32},{"d":57,"r":50,"p":48},{"d":59,"r":106,"p":100},{"d":61,"r":45,"p":45},{"d":63,"r":15,"p":25},{"d":65,"r":50,"p":48},{"d":67,"r":25,"p":30},{"d":69,"r":131,"p":128},{"d":71,"r":90,"p":90},{"d":73,"r":65,"p":95},{"d":75,"r":100,"p":100},{"d":76,"r":131,"p":130},{"d":78,"r":55,"p":52},{"d":80,"r":52,"p":55},{"d":82,"r":15,"p":28},{"d":84,"r":60,"p":55},{"d":86,"r":89,"p":80},{"d":88,"r":128,"p":125},{"d":90,"r":60,"p":58},{"d":92,"r":35,"p":38},{"d":94,"r":15,"p":28},{"d":96,"r":50,"p":48},{"d":98,"r":78,"p":62},{"d":100,"r":60,"p":60},{"d":102,"r":65,"p":68},{"d":104,"r":25,"p":35},{"d":106,"r":60,"p":58},{"d":107,"r":100,"p":105},{"d":109,"r":30,"p":33},{"d":111,"r":40,"p":40},{"d":113,"r":28,"p":30},{"d":115,"r":58,"p":42},{"d":117,"r":30,"p":33},{"d":119,"r":83,"p":75},{"d":121,"r":35,"p":38},{"d":123,"r":45,"p":45},{"d":125,"r":28,"p":30},{"d":127,"r":60,"p":55},{"d":128,"r":130,"p":132},{"d":130,"r":40,"p":42},{"d":132,"r":60,"p":55},{"d":134,"r":30,"p":33},{"d":136,"r":25,"p":28},{"d":138,"r":15,"p":20},{"d":140,"r":35,"p":33},{"d":142,"r":25,"p":28},{"d":144,"r":40,"p":38},{"d":146,"r":72,"p":65},{"d":148,"r":30,"p":32},{"d":150,"r":25,"p":28},{"d":152,"r":55,"p":60},{"d":154,"r":30,"p":32},{"d":156,"r":20,"p":28},{"d":158,"r":40,"p":38},{"d":160,"r":35,"p":35},{"d":162,"r":45,"p":42},{"d":164,"r":25,"p":28},{"d":166,"r":40,"p":38},{"d":168,"r":18,"p":25},{"d":170,"r":30,"p":30},{"d":172,"r":35,"p":33},{"d":174,"r":40,"p":38},{"d":176,"r":40,"p":40},{"d":178,"r":48,"p":42},{"d":180,"r":30,"p":32},{"d":182,"r":28,"p":30},{"d":184,"r":22,"p":25},{"d":187,"r":73,"p":65},{"d":189,"r":30,"p":32},{"d":191,"r":25,"p":28},{"d":193,"r":28,"p":28},{"d":195,"r":20,"p":22},{"d":197,"r":25,"p":25},{"d":199,"r":12,"p":18},{"d":201,"r":20,"p":22},{"d":203,"r":28,"p":25},{"d":205,"r":15,"p":18},{"d":207,"r":30,"p":28},{"d":209,"r":15,"p":18},{"d":211,"r":10,"p":15},{"d":213,"r":20,"p":22},{"d":215,"r":25,"p":25},{"d":217,"r":30,"p":28},{"d":219,"r":28,"p":30},{"d":221,"r":50,"p":48},{"d":222,"r":70,"p":74},{"d":224,"r":35,"p":38},{"d":226,"r":48,"p":45},{"d":228,"r":30,"p":33},{"d":230,"r":40,"p":38},{"d":232,"r":28,"p":30},{"d":234,"r":42,"p":38},{"d":236,"r":30,"p":32},{"d":238,"r":25,"p":28},{"d":240,"r":35,"p":33},{"d":242,"r":15,"p":25},{"d":244,"r":42,"p":35},{"d":246,"r":20,"p":25},{"d":248,"r":40,"p":35},{"d":250,"r":10,"p":20},{"d":252,"r":30,"p":28},{"d":254,"r":25,"p":28},{"d":256,"r":42,"p":40},{"d":258,"r":35,"p":35},{"d":260,"r":45,"p":40},{"d":262,"r":25,"p":28},{"d":264,"r":10,"p":17},{"d":266,"r":30,"p":28},{"d":268,"r":38,"p":35},{"d":270,"r":20,"p":22},{"d":272,"r":25,"p":25},{"d":274,"r":30,"p":28},{"d":276,"r":46,"p":42},{"d":278,"r":30,"p":32},{"d":280,"r":20,"p":22},{"d":282,"r":30,"p":28},{"d":284,"r":54,"p":30},{"d":286,"r":25,"p":28},{"d":288,"r":77,"p":75},{"d":290,"r":60,"p":58},{"d":291,"r":10,"p":22},{"d":293,"r":30,"p":30},{"d":295,"r":85,"p":75},{"d":297,"r":45,"p":48},{"d":299,"r":97,"p":128},{"d":300,"r":90,"p":110},{"d":302,"r":85,"p":85},{"d":304,"r":108,"p":100},{"d":305,"r":75,"p":78},{"d":307,"r":35,"p":40},{"d":309,"r":92,"p":80},{"d":311,"r":40,"p":42},{"d":313,"r":20,"p":25},{"d":315,"r":40,"p":38},{"d":317,"r":33,"p":35},{"d":319,"r":60,"p":58},{"d":321,"r":103,"p":100},{"d":322,"r":117,"p":105},{"d":324,"r":90,"p":88},{"d":326,"r":22,"p":25},{"d":328,"r":60,"p":58},{"d":331,"r":107,"p":100},{"d":332,"r":70,"p":72},{"d":334,"r":30,"p":33},{"d":336,"r":40,"p":40},{"d":338,"r":55,"p":52},{"d":340,"r":82,"p":70},{"d":342,"r":60,"p":62},{"d":345,"r":160,"p":153},{"d":346,"r":40,"p":50},{"d":347,"r":25,"p":30},{"d":349,"r":133,"p":120},{"d":351,"r":12,"p":25},{"d":353,"r":40,"p":40},{"d":355,"r":80,"p":75},{"d":356,"r":128,"p":118},{"d":359,"r":15,"p":22},{"d":361,"r":40,"p":38},{"d":363,"r":60,"p":62},{"d":365,"r":45,"p":38}]
},
"spacing":11,
"resolve":{"scale":{"color":"independent"}},
"vconcat":[
{"hconcat":[
 {"title":{"text":"(a)","offset":4,"dx":-8},"width":359,"height":218,"data":{"name":"a"},
  "encoding":{"x":{"field":"d","type":"quantitative","title":"Day","scale":{"domain":[-18.25,383.25],"nice":false,"zero":false},"axis":{"values":[0,50,100,150,200,250,300,350],"labelOverlap":false}}},
  "layer":[
   {"mark":{"type":"line","strokeWidth":1.1},"encoding":{"y":{"field":"r","type":"quantitative","title":"PM2.5","scale":{"domain":[-5,181],"nice":false,"zero":false},"axis":{"values":[0,25,50,75,100,125,150,175],"labelOverlap":false}},"color":{"datum":"raw data","type":"nominal","scale":{"domain":["raw data","predict data"],"range":["#1e90ff","#ff0000"]},"legend":{"title":null,"orient":"top-right"}}}},
   {"mark":{"type":"line","strokeWidth":1.1,"opacity":0.9},"encoding":{"y":{"field":"p","type":"quantitative","title":"PM2.5","scale":{"domain":[-5,181],"nice":false,"zero":false},"axis":{"values":[0,25,50,75,100,125,150,175],"labelOverlap":false}},"color":{"datum":"predict data","type":"nominal"}}}
  ]},
 {"title":{"text":"(b)","offset":4,"dx":3},"width":359,"height":218,"data":{"name":"b"},
  "encoding":{"x":{"field":"d","type":"quantitative","title":"Day","scale":{"domain":[-18.25,383.25],"nice":false,"zero":false},"axis":{"values":[0,50,100,150,200,250,300,350],"labelOverlap":false}}},
  "layer":[
   {"mark":{"type":"line","strokeWidth":1.1},"encoding":{"y":{"field":"r","type":"quantitative","title":"PM2.5","scale":{"domain":[-6,223],"nice":false,"zero":false},"axis":{"values":[0,50,100,150,200],"labelOverlap":false}},"color":{"datum":"raw data","type":"nominal","scale":{"domain":["raw data","predict data"],"range":["#1e90ff","#ff0000"]},"legend":{"title":null,"orient":"top-right"}}}},
   {"mark":{"type":"line","strokeWidth":1.1,"opacity":0.9},"encoding":{"y":{"field":"p","type":"quantitative","title":"PM2.5","scale":{"domain":[-6,223],"nice":false,"zero":false},"axis":{"values":[0,50,100,150,200],"labelOverlap":false}},"color":{"datum":"predict data","type":"nominal"}}}
  ]}
 ],"spacing":7,"resolve":{"scale":{"color":"independent"}}},
{"hconcat":[
 {"title":{"text":"(c)","offset":18,"dx":-7},"width":359,"height":218,"data":{"name":"c"},
  "encoding":{"x":{"field":"d","type":"quantitative","title":"Day","scale":{"domain":[-18.25,383.25],"nice":false,"zero":false},"axis":{"values":[0,50,100,150,200,250,300,350],"labelOverlap":false}}},
  "layer":[
   {"mark":{"type":"line","strokeWidth":1.1},"encoding":{"y":{"field":"r","type":"quantitative","title":"PM2.5","scale":{"domain":[-5,211],"nice":false,"zero":false},"axis":{"values":[0,25,50,75,100,125,150,175,200],"labelOverlap":false}},"color":{"datum":"raw data","type":"nominal","scale":{"domain":["raw data","predict data"],"range":["#1e90ff","#ff0000"]},"legend":{"title":null,"orient":"none","legendX":140,"legendY":4}}}},
   {"mark":{"type":"line","strokeWidth":1.1,"opacity":0.75},"encoding":{"y":{"field":"p","type":"quantitative","title":"PM2.5","scale":{"domain":[-5,211],"nice":false,"zero":false},"axis":{"values":[0,25,50,75,100,125,150,175,200],"labelOverlap":false}},"color":{"datum":"predict data","type":"nominal"}}}
  ]},
 {"title":{"text":"(d)","offset":18,"dx":5},"width":359,"height":218,"data":{"name":"d"},
  "encoding":{"x":{"field":"d","type":"quantitative","title":"Day","scale":{"domain":[-18.25,383.25],"nice":false,"zero":false},"axis":{"values":[0,50,100,150,200,250,300,350],"labelOverlap":false}}},
  "layer":[
   {"mark":{"type":"line","strokeWidth":1.1},"encoding":{"y":{"field":"r","type":"quantitative","title":"PM2.5","scale":{"domain":[-8,291],"nice":false,"zero":false},"axis":{"values":[0,50,100,150,200,250],"labelOverlap":false}},"color":{"datum":"raw data","type":"nominal","scale":{"domain":["raw data","predict data"],"range":["#1e90ff","#ff0000"]},"legend":{"title":null,"orient":"top-right"}}}},
   {"mark":{"type":"line","strokeWidth":1.1,"opacity":0.75},"encoding":{"y":{"field":"p","type":"quantitative","title":"PM2.5","scale":{"domain":[-8,291],"nice":false,"zero":false},"axis":{"values":[0,50,100,150,200,250],"labelOverlap":false}},"color":{"datum":"predict data","type":"nominal"}}}
  ]}
 ],"spacing":7,"resolve":{"scale":{"color":"independent"}}},
{"hconcat":[
 {"title":{"text":"(e)","offset":15,"dx":-7},"width":356,"height":217,"data":{"name":"e"},
  "encoding":{"x":{"field":"d","type":"quantitative","title":"Day","scale":{"domain":[-18.25,383.25],"nice":false,"zero":false},"axis":{"values":[0,50,100,150,200,250,300,350],"labelOverlap":false}}},
  "layer":[
   {"mark":{"type":"line","strokeWidth":1.1},"encoding":{"y":{"field":"r","type":"quantitative","title":"PM2.5","scale":{"domain":[-4,186.5],"nice":false,"zero":false},"axis":{"values":[0,25,50,75,100,125,150,175],"labelOverlap":false}},"color":{"datum":"raw data","type":"nominal","scale":{"domain":["raw data","predict data"],"range":["#1e90ff","#ff0000"]},"legend":{"title":null,"orient":"none","legendX":146,"legendY":5}}}},
   {"mark":{"type":"line","strokeWidth":1.1,"opacity":0.9},"encoding":{"y":{"field":"p","type":"quantitative","title":"PM2.5","scale":{"domain":[-4,186.5],"nice":false,"zero":false},"axis":{"values":[0,25,50,75,100,125,150,175],"labelOverlap":false}},"color":{"datum":"predict data","type":"nominal"}}}
  ]},
 {"title":{"text":"(f)","offset":15,"dx":4},"width":359,"height":217,"data":{"name":"f"},
  "encoding":{"x":{"field":"d","type":"quantitative","title":"Day","scale":{"domain":[-18.25,383.25],"nice":false,"zero":false},"axis":{"values":[0,50,100,150,200,250,300,350],"labelOverlap":false}}},
  "layer":[
   {"mark":{"type":"line","strokeWidth":1.1},"encoding":{"y":{"field":"r","type":"quantitative","title":"PM2.5","scale":{"domain":[-3.5,223],"nice":false,"zero":false},"axis":{"values":[0,25,50,75,100,125,150,175,200],"labelOverlap":false}},"color":{"datum":"raw data","type":"nominal","scale":{"domain":["raw data","predict data"],"range":["#1e90ff","#ff0000"]},"legend":{"title":null,"orient":"top-right"}}}},
   {"mark":{"type":"line","strokeWidth":1.1,"opacity":0.9},"encoding":{"y":{"field":"p","type":"quantitative","title":"PM2.5","scale":{"domain":[-3.5,223],"nice":false,"zero":false},"axis":{"values":[0,25,50,75,100,125,150,175,200],"labelOverlap":false}},"color":{"datum":"predict data","type":"nominal"}}}
  ]}
 ],"spacing":10,"resolve":{"scale":{"color":"independent"}}}
]
}
